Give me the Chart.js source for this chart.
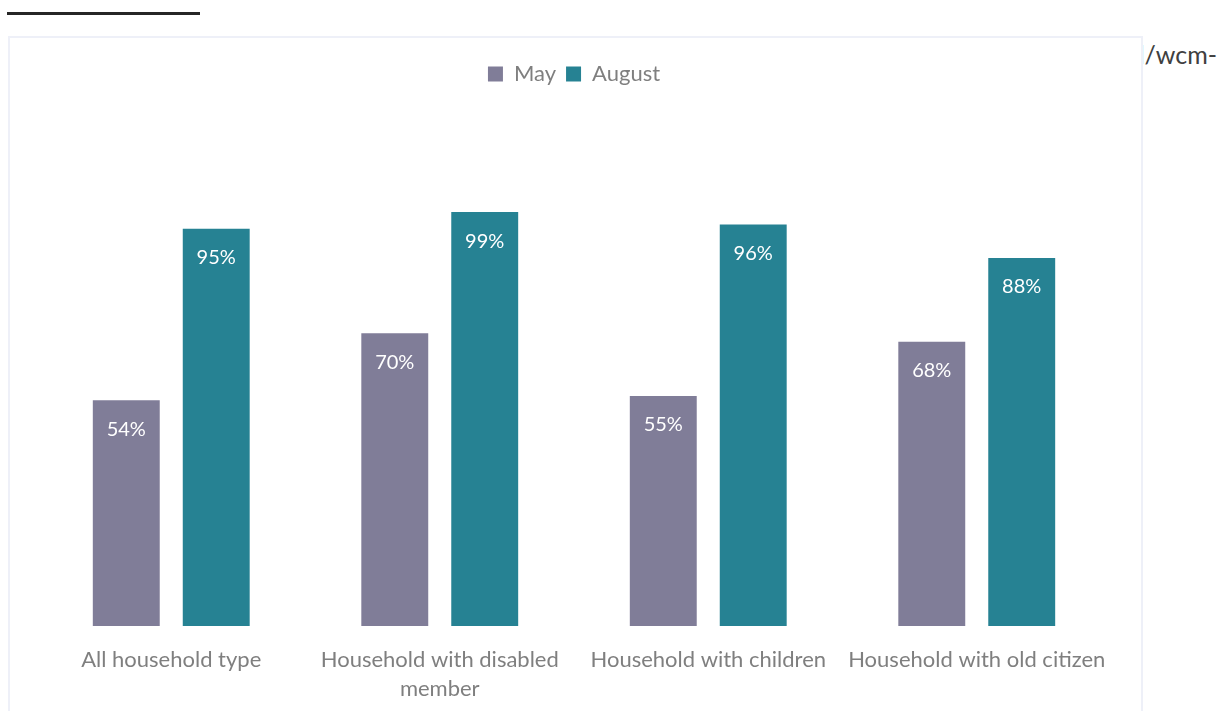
<!DOCTYPE html>
<html lang="en">
<head>
    <meta charset="UTF-8">
    <title>Household types - May vs August</title>
    <script src="https://cdn.jsdelivr.net/npm/chart.js"></script>
    <style>
        html, body { margin: 0; padding: 0; background: #fff; overflow: hidden; }
        body { width: 1221px; height: 711px; position: relative; font-family: Lato, sans-serif; }
        .rule { position: absolute; left: 7px; top: 12px; width: 193px; height: 3px; background: #262626; }
        .side-text { position: absolute; right: 4px; top: 39px; font-size: 25px; color: #404040; z-index: 0; }
        .chart-box {
            position: absolute; left: 8px; top: 36px; width: 1135px; height: 720px;
            box-sizing: border-box; border: 2px solid #eef0f8; background: #fff; z-index: 1;
        }
        .chart-box canvas { display: block; }
    </style>
</head>
<body>
    <div class="rule"></div>
    <div class="side-text">d/wcm-</div>
    <div class="chart-box">
        <canvas id="hhChart" width="1131" height="690"></canvas>
    </div>

<script>
const categories = [
    "All household type",
    ["Household with disabled", "member"],
    "Household with children",
    "Household with old citizen"
];
const mayValues = [0.54, 0.70, 0.55, 0.68];
const augustValues = [0.95, 0.99, 0.96, 0.88];

// white percentage labels just under the top of each bar
const barLabels = {
    id: "barLabels",
    afterDatasetsDraw(chart) {
        const ctx = chart.ctx;
        ctx.save();
        ctx.font = "20px Lato, sans-serif";
        ctx.fillStyle = "#ffffff";
        ctx.textAlign = "center";
        ctx.textBaseline = "middle";
        chart.data.datasets.forEach((ds, i) => {
            chart.getDatasetMeta(i).data.forEach((bar, j) => {
                ctx.fillText(Math.round(ds.data[j] * 100) + "%", bar.x, bar.y + 29);
            });
        });
        ctx.restore();
    }
};

new Chart(document.getElementById("hhChart"), {
    type: "bar",
    data: {
        labels: categories,
        datasets: [
            { label: "May", data: mayValues, backgroundColor: "#807d98" },
            { label: "August", data: augustValues, backgroundColor: "#268293" }
        ]
    },
    options: {
        responsive: false,
        animation: false,
        categoryPercentage: 0.67,
        barPercentage: 0.744,
        layout: { padding: { left: 27, right: 30, top: 15, bottom: 14 } },
        plugins: {
            legend: {
                position: "top",
                labels: {
                    boxWidth: 15, boxHeight: 15, padding: 10,
                    color: "#7f7f7f",
                    font: { family: "Lato", size: 22 }
                }
            },
            tooltip: { enabled: false }
        },
        scales: {
            x: {
                grid: { display: false },
                border: { display: false },
                ticks: {
                    color: "#7f7f7f",
                    font: { family: "Lato", size: 22, lineHeight: 1.32 },
                    padding: 11,
                    maxRotation: 0,
                    autoSkip: false
                }
            },
            y: { display: false, min: 0, max: 1.27 }
        }
    },
    plugins: [barLabels]
});
</script>
</body>
</html>
